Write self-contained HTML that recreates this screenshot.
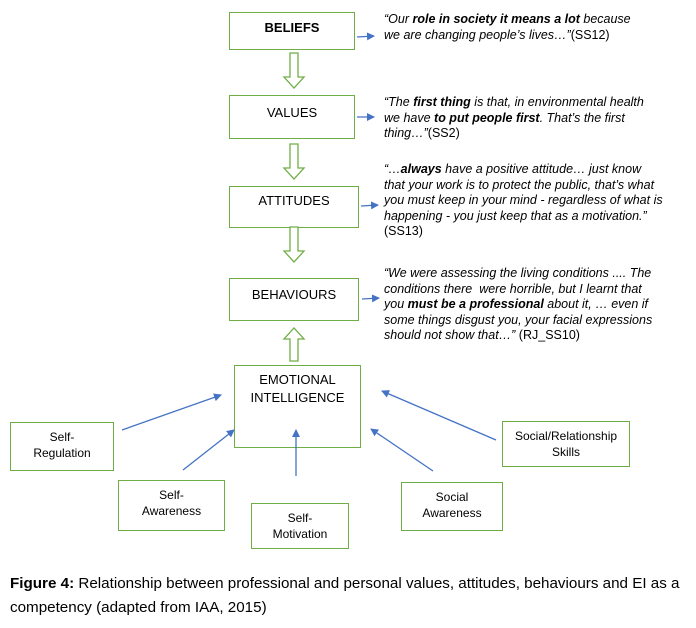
<!DOCTYPE html>
<html><head><meta charset="utf-8"><style>
body{margin:0;background:#fff;width:696px;height:628px;position:relative;font-family:"Liberation Sans",Arial,sans-serif;color:#000;overflow:hidden}
.b{position:absolute;border:1.3px solid #70ad47;box-sizing:border-box;display:flex;align-items:flex-start;justify-content:center;text-align:center;font-size:13px;line-height:18px}
.q{position:absolute;font-size:12.5px;line-height:15.5px;font-style:italic;left:384px;white-space:nowrap}
.q span{font-style:normal}
.s{position:absolute;font-size:12px;line-height:16px;text-align:center;border:1.3px solid #70ad47;box-sizing:border-box}
.cap{position:absolute;left:10px;font-size:15.2px;line-height:24px;top:572px;width:690px;white-space:nowrap}
</style></head><body>
<div class="b" style="left:229px;top:12px;width:126px;height:38px;padding-top:6px;font-weight:bold">BELIEFS</div>
<div class="b" style="left:229px;top:95px;width:126px;height:44px;padding-top:8px">VALUES</div>
<div class="b" style="left:229px;top:186px;width:130px;height:42px;padding-top:5px">ATTITUDES</div>
<div class="b" style="left:229px;top:278px;width:130px;height:43px;padding-top:7px">BEHAVIOURS</div>
<div class="b" style="left:234px;top:365px;width:127px;height:83px;padding-top:5px">EMOTIONAL<br>INTELLIGENCE</div>

<div class="q" style="top:12px">“Our <b>role in society it means a lot</b> because<br>we are changing people’s lives…”<span>(SS12)</span></div>
<div class="q" style="top:95px">“The <b>first thing</b> is that, in environmental health<br>we have <b>to put people first</b>. That’s the first<br>thing…”<span>(SS2)</span></div>
<div class="q" style="top:162px">“…<b>always</b> have a positive attitude… just know<br>that your work is to protect the public, that’s what<br>you must keep in your mind - regardless of what is<br>happening - you just keep that as a motivation.”<br><span>(SS13)</span></div>
<div class="q" style="top:266px">“We were assessing the living conditions .... The<br>conditions there &nbsp;were horrible, but I learnt that<br>you <b>must be a professional</b> about it, … even if<br>some things disgust you, your facial expressions<br>should not show that…” <span>(RJ_SS10)</span></div>

<div class="s" style="left:10px;top:422px;width:104px;height:49px;padding-top:6px">Self-<br>Regulation</div>
<div class="s" style="left:118px;top:480px;width:107px;height:51px;padding-top:6px">Self-<br>Awareness</div>
<div class="s" style="left:251px;top:503px;width:98px;height:46px;padding-top:6px">Self-<br>Motivation</div>
<div class="s" style="left:401px;top:482px;width:102px;height:49px;padding-top:6px">Social<br>Awareness</div>
<div class="s" style="left:502px;top:421px;width:128px;height:46px;padding-top:6px">Social/Relationship<br>Skills</div>

<svg width="696" height="628" style="position:absolute;left:0;top:0">
<defs><marker id="a" markerWidth="8" markerHeight="8" refX="7" refY="4" orient="auto" markerUnits="userSpaceOnUse"><path d="M0,0 L8,4 L0,8 z" fill="#4472c4"/></marker></defs>
<g fill="#fff" stroke="#70ad47" stroke-width="1.3">
<path d="M290,53 h8 v24 h6 l-10,11 l-10,-11 h6 z"/>
<path d="M290,144 h8 v24 h6 l-10,11 l-10,-11 h6 z"/>
<path d="M290,227 h8 v24 h6 l-10,11 l-10,-11 h6 z"/>
<path d="M290,361 h8 v-22 h6 l-10,-11 l-10,11 h6 z"/>
</g>
<g stroke="#4472c4" stroke-width="1.3" marker-end="url(#a)">
<line x1="357" y1="37" x2="374" y2="36"/>
<line x1="357" y1="117" x2="374" y2="117"/>
<line x1="361" y1="206" x2="378" y2="205"/>
<line x1="362" y1="299" x2="379" y2="298"/>
<line x1="122" y1="430" x2="221" y2="395"/>
<line x1="183" y1="470" x2="234" y2="430"/>
<line x1="296" y1="476" x2="296" y2="430"/>
<line x1="433" y1="471" x2="371" y2="429"/>
<line x1="496" y1="440" x2="382" y2="391"/>
</g>
</svg>
<div class="cap"><b>Figure 4:</b> Relationship between professional and personal values, attitudes, behaviours and EI as a<br>competency (adapted from IAA, 2015)</div>
</body></html>
